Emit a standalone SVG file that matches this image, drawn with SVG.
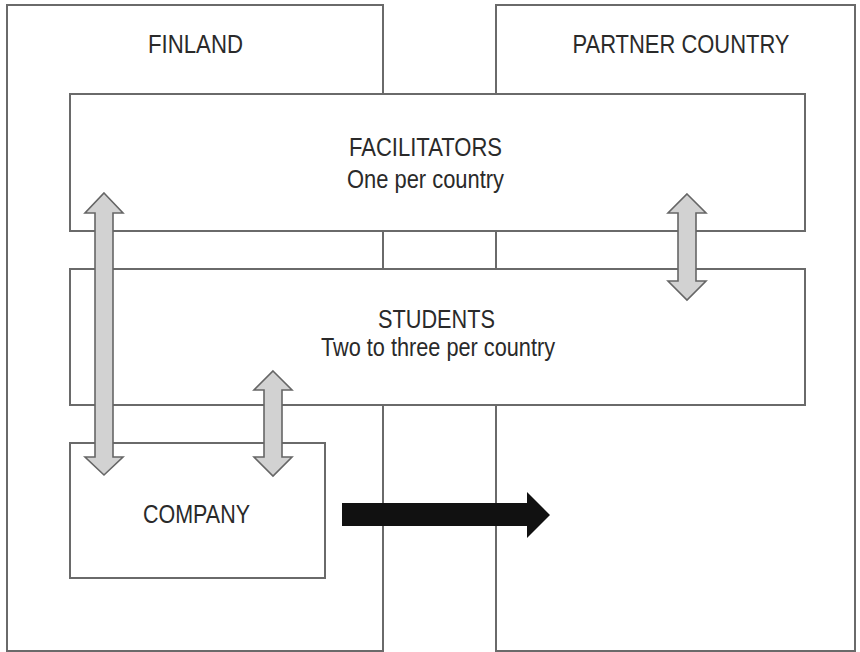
<svg xmlns="http://www.w3.org/2000/svg" width="860" height="652" viewBox="0 0 860 652">
<style>
.box{fill:#fff;stroke:#6a6a6a;stroke-width:2}
.lbl{font-family:"Liberation Sans",Arial,sans-serif;font-size:25px;fill:#2a2a2a;text-anchor:middle}
.dbl{fill:#d2d2d2;stroke:#666;stroke-width:1.6;stroke-linejoin:miter}
.blk{fill:#111;stroke:none}
</style>
<rect width="860" height="652" fill="#fff"/>
<g id="finland">
<rect class="box" x="7" y="5" width="376" height="646"/>
<text class="lbl" x="195.5" y="53" textLength="95" lengthAdjust="spacingAndGlyphs">FINLAND</text>
</g>
<g id="partner">
<rect class="box" x="496" y="5" width="359" height="646"/>
<text class="lbl" x="681" y="53" textLength="217" lengthAdjust="spacingAndGlyphs">PARTNER COUNTRY</text>
</g>
<g id="facilitators">
<rect class="box" x="70" y="94" width="735" height="137"/>
<text class="lbl" x="425.5" y="156" textLength="153" lengthAdjust="spacingAndGlyphs">FACILITATORS</text>
<text class="lbl" x="425.5" y="188" textLength="157" lengthAdjust="spacingAndGlyphs">One per country</text>
</g>
<g id="students">
<rect class="box" x="70" y="269" width="735" height="136"/>
<text class="lbl" x="436.5" y="328" textLength="117" lengthAdjust="spacingAndGlyphs">STUDENTS</text>
<text class="lbl" x="438" y="356" textLength="234" lengthAdjust="spacingAndGlyphs">Two to three per country</text>
</g>
<g id="company">
<rect class="box" x="70" y="443" width="255" height="135"/>
<text class="lbl" x="196.5" y="523" textLength="107" lengthAdjust="spacingAndGlyphs">COMPANY</text>
</g>
<g id="connectors">
<polygon class="dbl" points="104,193 123,213 113,213 113,457 123,457 104,475 85,457 95,457 95,213 85,213"/>
<polygon class="dbl" points="273,371 292,390 282,390 282,457 292,457 273,476 254,457 264,457 264,390 254,390"/>
<polygon class="dbl" points="687,194 706,213 696,213 696,281 706,281 687,300 668,281 678,281 678,213 668,213"/>
<polygon class="blk" points="342,503 527,503 527,492 550,515 527,538 527,526 342,526"/>
</g>
</svg>
